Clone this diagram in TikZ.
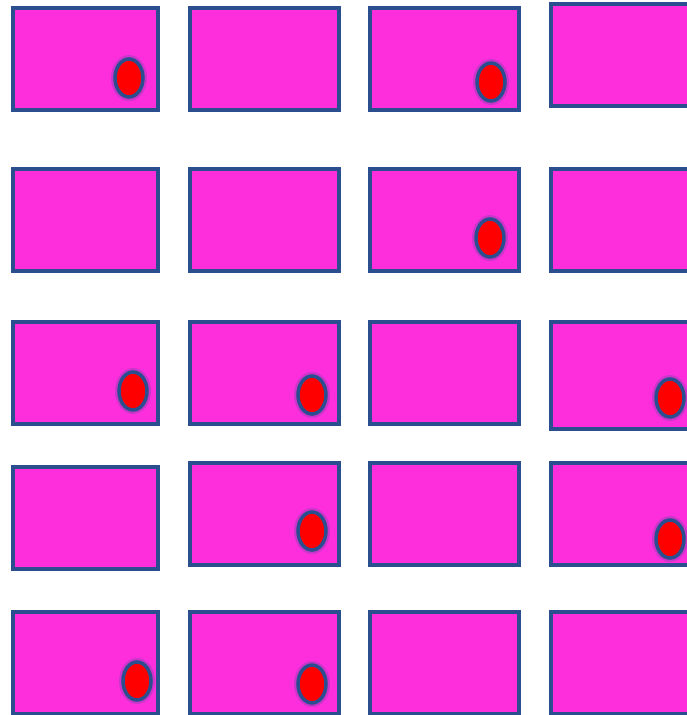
\documentclass[tikz,border=0pt]{standalone}
\usetikzlibrary{shapes.geometric}

\definecolor{cellfill}{RGB}{255,46,221}
\definecolor{cellline}{RGB}{43,78,143}

\tikzset{
    cell/.style={rectangle, draw=cellline, fill=cellfill, line width=4pt, inner sep=0pt, outer sep=0pt},
    blob/.style={ellipse, draw=cellline, fill=red, line width=3.5pt, inner sep=0pt,
        minimum width=28pt, minimum height=38pt,
        preaction={draw=cellline!55!cellfill, line width=8pt, draw opacity=0.45}}
}

\begin{document}
\begin{tikzpicture}[x=1pt,y=-1pt]
        \useasboundingbox (0,0) rectangle (687,715);
        \clip (0,0) rectangle (687,715);

        % Grid of cells
        \foreach \name/\cx/\cy/\w/\h in {
            b11/85.5/59/145/102, b12/264.5/59/149/102, b13/444.5/59/149/102, b14/625.5/55/149/102,
            b21/85.5/220/145/102, b22/264.5/220/149/102, b23/444.5/220/149/102, b24/625.5/220/149/102,
            b31/85.5/373/145/102, b32/264.5/373/149/102, b33/444.5/373/149/102, b34/625.5/375.5/149/107,
            b41/85.5/518/145/102, b42/264.5/514/149/102, b43/444.5/514/149/102, b44/625.5/514/149/102,
            b51/85.5/663/145/102, b52/264.5/663/149/102, b53/444.5/663/149/102, b54/625.5/663/149/102}
            \node[cell, minimum width=\w pt, minimum height=\h pt] (\name) at (\cx,\cy) {};

        % Red markers
        \foreach \name/\cx/\cy in {
            d11/129/78, d13/491/82,
            d23/490/238,
            d31/133/391, d32/312/395, d34/670/398,
            d42/312/531, d44/670/539,
            d51/137/681, d52/312/684}
            \node[blob] (\name) at (\cx,\cy) {};
    \end{tikzpicture}
\end{document}
